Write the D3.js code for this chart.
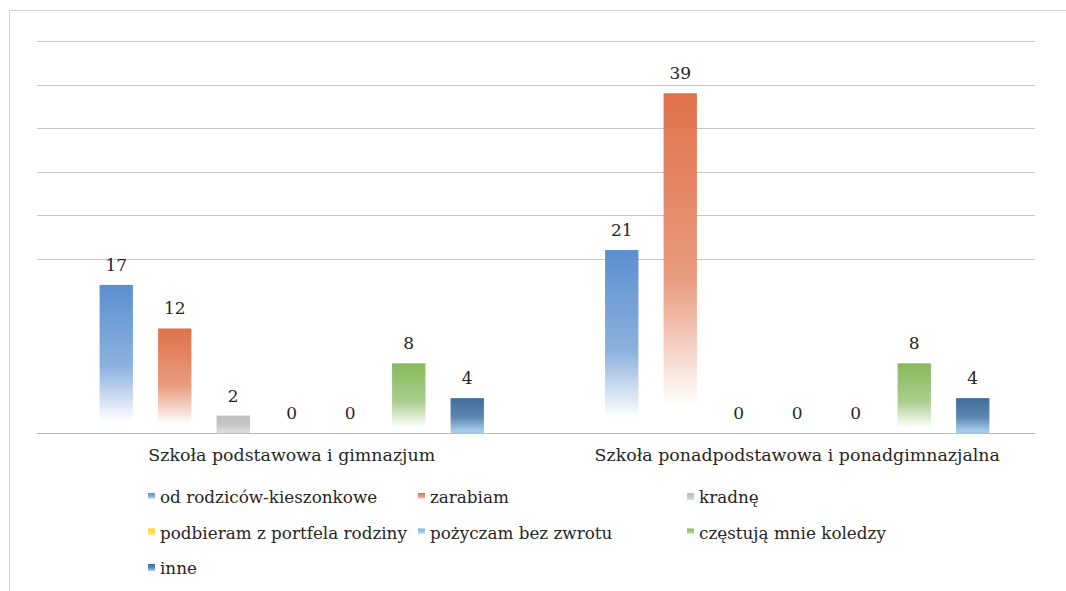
<!DOCTYPE html>
<html>
<head>
<meta charset="utf-8">
<script src="https://cdn.jsdelivr.net/npm/d3@7"></script>
<style>
  body { margin: 0; background: #fff; }
</style>
</head>
<body>
<svg id="drawing_region"></svg>
<script>
// data
const categories = ["Szkoła podstawowa i gimnazjum", "Szkoła ponadpodstawowa i ponadgimnazjalna"];
const series = ["od rodziców-kieszonkowe", "zarabiam", "kradnę", "podbieram z portfela rodziny",
                "pożyczam bez zwrotu", "częstują mnie koledzy", "inne"];
const valuesPodst = [17, 12, 2, 0, 0, 8, 4];
const valuesPonad = [21, 39, 0, 0, 0, 8, 4];
const gridValues = [20, 25, 30, 35, 40, 45];

const topColors = ["#5b8fd0", "#e0714a", "#bdbdbd", "#ffd21a", "#7cb6e6", "#86b95c", "#3f6c98"];
const endColors = ["#ffffff", "#ffffff", "#dcdcdc", "#fff4b0", "#ffffff", "#ffffff", "#a4c8ea"];

const fontFamily = "'DejaVu Serif', 'Liberation Serif', serif";

const table = [];
categories.forEach((c, ci) => {
    const vals = ci === 0 ? valuesPodst : valuesPonad;
    series.forEach((s, si) => table.push({ cat: c, series: s, si: si, value: vals[si] }));
});

const config = { width: 1066, height: 591 };

const svg = d3.select('#drawing_region')
    .attr('width', config.width)
    .attr('height', config.height)
    .attr('font-family', fontFamily);

// gradients
const defs = svg.append('defs');
series.forEach((s, i) => {
    const g = defs.append('linearGradient')
        .attr('id', 'grad' + i)
        .attr('x1', 0).attr('y1', 0).attr('x2', 0).attr('y2', 1);
    g.append('stop').attr('offset', '0%').attr('stop-color', topColors[i]);
    g.append('stop').attr('offset', '55%').attr('stop-color', d3.interpolateRgb(topColors[i], endColors[i])(0.3));
    g.append('stop').attr('offset', '92%').attr('stop-color', endColors[i]);
});

// frame (scanned page border)
svg.append('line').attr('x1', 9).attr('x2', config.width).attr('y1', 10.5).attr('y2', 10.5)
    .attr('stroke', '#d4d4d4');
svg.append('line').attr('x1', 9.5).attr('x2', 9.5).attr('y1', 10).attr('y2', config.height)
    .attr('stroke', '#d4d4d4');

const x0 = d3.scaleBand()
    .domain(categories)
    .range([39, 1050]);

const groupWidth = 409.5;
const x1 = d3.scaleBand()
    .domain(series)
    .range([0, groupWidth])
    .paddingInner(0.43)
    .paddingOuter(0.215);

const yscale = d3.scaleLinear()
    .domain([0, 45])
    .range([433, 41]);

const barX = d => x0(d.cat) + (x0.bandwidth() - groupWidth) / 2 + x1(d.series);

// gridlines
svg.append('g').selectAll('line')
    .data(gridValues)
    .join('line')
    .attr('x1', 37).attr('x2', 1035)
    .attr('y1', d => Math.round(yscale(d)) + 0.5)
    .attr('y2', d => Math.round(yscale(d)) + 0.5)
    .attr('stroke', '#c6c6c6')
    .attr('stroke-width', 1);

// bars
svg.append('g').selectAll('rect')
    .data(table.filter(d => d.value > 0))
    .join('rect')
    .attr('x', barX)
    .attr('y', d => yscale(d.value))
    .attr('width', x1.bandwidth())
    .attr('height', d => yscale(0) - yscale(d.value))
    .attr('fill', d => `url(#grad${d.si})`);

// baseline
svg.append('line')
    .attr('x1', 37).attr('x2', 1035)
    .attr('y1', Math.round(yscale(0)) + 0.5).attr('y2', Math.round(yscale(0)) + 0.5)
    .attr('stroke', '#bcbcbc');

// value labels
svg.append('g').selectAll('text')
    .data(table)
    .join('text')
    .attr('x', d => barX(d) + x1.bandwidth() / 2)
    .attr('y', d => yscale(d.value) - 14)
    .attr('text-anchor', 'middle')
    .attr('font-family', fontFamily)
    .attr('font-size', 17)
    .attr('fill', '#262626')
    .text(d => d.value);

// category axis labels
svg.append('g').selectAll('text')
    .data(categories)
    .join('text')
    .attr('x', d => x0(d) + x0.bandwidth() / 2)
    .attr('y', 461)
    .attr('text-anchor', 'middle')
    .attr('font-family', fontFamily)
    .attr('font-size', 17.4)
    .attr('fill', '#262626')
    .text(d => d);

// legend, three items per row
const legendCols = [148, 418, 687];
const legend = svg.append('g').selectAll('g')
    .data(series)
    .join('g')
    .attr('transform', (d, i) => `translate(${legendCols[i % 3]}, ${503 + Math.floor(i / 3) * 35.5})`);

legend.append('rect')
    .attr('x', 0).attr('y', -10)
    .attr('width', 7).attr('height', 7)
    .attr('fill', (d, i) => `url(#grad${i})`);

legend.append('text')
    .attr('x', 12).attr('y', 0)
    .attr('font-family', fontFamily)
    .attr('font-size', 16.8)
    .attr('fill', '#262626')
    .text(d => d);
</script>
</body>
</html>
